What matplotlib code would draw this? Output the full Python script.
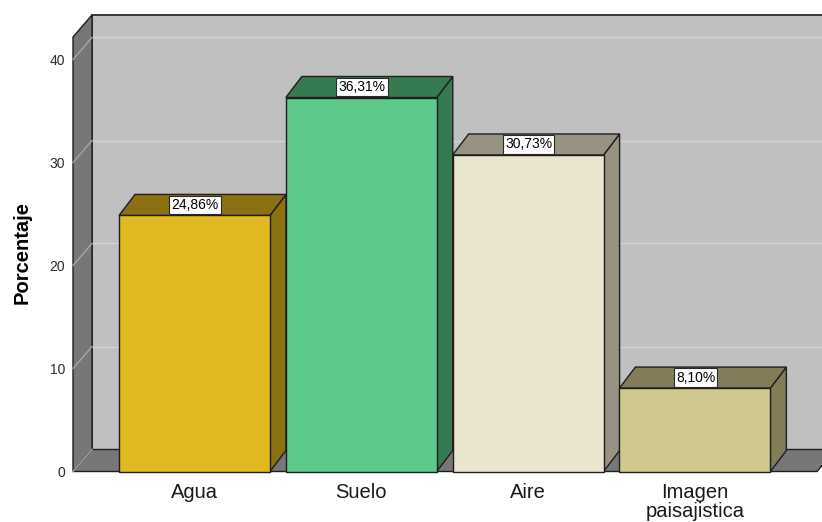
import matplotlib
matplotlib.use("Agg")
import matplotlib.pyplot as plt
from matplotlib.patches import Polygon

# Data
categories = ["Agua", "Suelo", "Aire", "Imagen\npaisajistica"]
percentages = [24.86, 36.31, 30.73, 8.10]
value_labels = ["24,86%", "36,31%", "30,73%", "8,10%"]
y_ticks = [0, 10, 20, 30, 40]

# Styling
front_colors = ["#E0B920", "#5DC98B", "#EBE4CE", "#CFC98F"]
shade_colors = ["#8C7113", "#367A52", "#979282", "#827D57"]
wall_color = "#C0C0C0"
side_color = "#777777"
edge_dark = "#1E1E1E"

W, H, DPI = 822, 522, 100
plt.rcParams["font.family"] = ["Liberation Sans", "DejaVu Sans"]

fig = plt.figure(figsize=(W / DPI, H / DPI), dpi=DPI)
fig.patch.set_facecolor("white")

# front plane of the 3D box (pixels from top-left)
left_px, right_px, bottom_px, top_px = 73, 817, 471.5, 37
ax = fig.add_axes([left_px / W, (H - bottom_px) / H,
                   (right_px - left_px) / W, (bottom_px - top_px) / H])
XMIN, XMAX = -0.7284, 3.732
YMAX = (bottom_px - top_px) / 10.3
ax.set_xlim(XMIN, XMAX)
ax.set_ylim(0, YMAX)
ax.patch.set_visible(False)
for s in ax.spines.values():
    s.set_visible(False)

WALL_D = (19, 22)   # depth of the box, in pixels
BAR_D = (16, 21)    # depth of the bars, in pixels


def shift(pts, d):
    disp = ax.transData.transform(pts)
    return ax.transData.inverted().transform(disp + list(d))


def poly(pts, fc, ec=edge_dark, lw=1.0, z=1):
    p = Polygon(pts, closed=True, facecolor=fc, edgecolor=ec, linewidth=lw,
                zorder=z, clip_on=False, joinstyle="miter")
    ax.add_patch(p)
    return p


# back wall
front_rect = [(XMIN, 0), (XMAX, 0), (XMAX, YMAX), (XMIN, YMAX)]
poly(shift(front_rect, WALL_D), wall_color, ec="#3A3A3A", lw=1.4, z=0.5)

# gridlines on the back wall
for t in y_ticks[1:]:
    a, b = shift([(XMIN, t), (XMAX, t)], WALL_D)
    ax.plot([a[0], b[0]], [a[1], b[1]], color="#D4D4D4", lw=1.0,
            zorder=0.6, clip_on=False)

# left side wall
side = [(XMIN, 0), (XMIN, YMAX)] + list(shift([(XMIN, YMAX), (XMIN, 0)], WALL_D))
poly(side, side_color, z=0.7)
for t in y_ticks:
    a = (XMIN, t)
    b = shift([a], WALL_D)[0]
    ax.plot([a[0], b[0]], [a[1], b[1]], color="#A6A6A6", lw=1.0,
            zorder=0.8, clip_on=False)

# floor
floor = [(XMIN, 0), (XMAX, 0)] + list(shift([(XMAX, 0), (XMIN, 0)], WALL_D))
poly(floor, side_color, z=0.9)
a = (XMIN, 0)
b = shift([a], WALL_D)[0]
ax.plot([a[0], b[0]], [a[1], b[1]], color="#A6A6A6", lw=1.0,
        zorder=0.95, clip_on=False)

# bars
bw = 0.905
xs = list(range(len(categories)))
for i, (x, v) in enumerate(zip(xs, percentages)):
    z = 2 + i * 0.1
    x0, x1 = x - bw / 2, x + bw / 2
    side_face = [(x1, 0), (x1, v)] + list(shift([(x1, v), (x1, 0)], BAR_D))
    top_face = [(x0, v), (x1, v)] + list(shift([(x1, v), (x0, v)], BAR_D))
    poly(side_face, shade_colors[i], z=z)
    poly(top_face, shade_colors[i], z=z)
    ax.bar(x, v, width=bw, color=front_colors[i], edgecolor=edge_dark,
           linewidth=1.0, zorder=z + 0.01, clip_on=False)
    ax.annotate(value_labels[i], (x, v), xytext=(0.5, BAR_D[1] / 2 * 72 / DPI),
                textcoords="offset points", ha="center", va="center",
                fontsize=10, color="black", zorder=10,
                bbox=dict(boxstyle="square,pad=0.15", fc="white",
                          ec="#2A2A2A", lw=0.8))

# axes labels and ticks
ax.set_yticks(y_ticks)
ax.tick_params(axis="y", length=0, pad=5.8, labelsize=10, labelcolor="#2B2B2B")
ax.set_xticks(xs, categories)
ax.tick_params(axis="x", length=0, pad=8.5, labelsize=14.5, labelcolor="#1A1A1A")
for lbl in ax.get_xticklabels():
    lbl.set_linespacing(0.95)

fig.text(22 / W, 1 - 252 / H, "Porcentaje", rotation=90, ha="center",
         va="center", fontsize=14.5, fontweight="bold", color="black")

fig.savefig("out.png", dpi=DPI)
